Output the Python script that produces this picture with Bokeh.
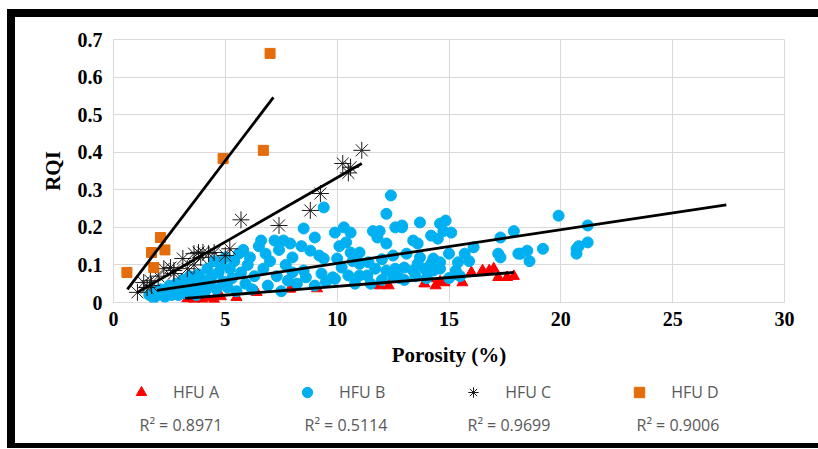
import math
from bokeh.plotting import figure
from bokeh.layouts import column, row
from bokeh.models import (Range1d, FixedTicker, Legend, LegendItem, Label, Div, Spacer)
from bokeh.embed import file_html
from bokeh.resources import INLINE

# ---------------- data ----------------
A_x = [3.3, 3.6, 4.0, 4.2, 4.5, 4.8, 5.5, 6.4, 7.9, 9.1, 11.9, 12.3, 13.9, 14.1, 14.4,
       14.6, 14.8, 15.2, 15.6, 16.0, 16.5, 16.8, 17.0, 17.2, 17.6, 17.9]
A_y = [0.010, 0.008, 0.005, 0.013, 0.008, 0.016, 0.014, 0.027, 0.036, 0.037, 0.045, 0.045, 0.050, 0.064, 0.045,
       0.055, 0.053, 0.070, 0.053, 0.080, 0.085, 0.085, 0.090, 0.067, 0.067, 0.070]

B_x = [1.6, 1.8, 1.9, 2.0, 2.1, 2.3, 2.4, 2.5, 2.6, 2.7, 2.8, 2.9, 3.0,
       3.1, 3.2, 3.3, 3.4, 3.5, 3.6, 3.7, 3.8, 3.9, 4.0,
       4.1, 4.2, 4.3, 4.4, 4.5, 4.6, 4.7, 4.8, 4.9, 5.0,
       5.1, 5.2, 5.3, 5.4, 5.5, 5.6, 5.7, 5.8, 5.9, 6.0,
       6.1, 6.2, 6.3, 6.5, 6.6, 6.7, 6.8, 6.9, 7.0, 7.2, 7.3, 7.4, 7.5, 7.6, 7.7, 7.8, 7.9, 8.0, 8.0, 8.2,
       8.4, 8.5, 8.5, 8.6, 8.8, 9.0, 9.0, 9.2, 9.3, 9.4, 9.4, 9.5, 9.8, 9.9, 9.9, 10.0, 10.1,
       10.2, 10.3, 10.4, 10.5, 10.6, 10.6, 10.7, 10.8, 11.0, 11.0, 11.0, 11.35, 11.4, 11.5, 11.6, 11.7, 11.8, 11.9, 12.0, 12.0,
       12.2, 12.2, 12.2, 12.4, 12.5, 12.5, 12.6, 12.6, 12.9, 12.8,
       12.9, 13.0, 13.0, 13.1, 13.4, 13.4, 13.5, 13.6, 13.6, 13.7, 13.7, 13.9, 14.0, 14.2, 14.2, 14.3, 14.3,
       14.5, 14.6, 14.6, 14.6, 14.75, 14.85, 15.0, 15.0,
       15.1, 15.3, 15.4, 15.5, 15.7, 15.9, 16.1,
       17.2, 17.3, 17.3, 17.9, 18.1, 18.2, 18.5, 18.6, 19.2, 19.9, 20.7, 20.7, 20.8, 21.2, 21.2]
B_y = [0.020, 0.012, 0.030, 0.020, 0.035, 0.015, 0.030, 0.045, 0.020, 0.035, 0.050, 0.020, 0.040,
       0.060, 0.025, 0.045, 0.070, 0.030, 0.055, 0.020, 0.075, 0.040, 0.060,
       0.030, 0.090, 0.050, 0.070, 0.110, 0.035, 0.080, 0.100, 0.055, 0.120,
       0.040, 0.090, 0.065, 0.110, 0.030, 0.130, 0.080, 0.140, 0.050, 0.100,
       0.120, 0.035, 0.070, 0.150, 0.165, 0.090, 0.130, 0.045, 0.110, 0.165, 0.070, 0.140, 0.030, 0.165, 0.100, 0.058, 0.157, 0.120, 0.080, 0.050,
       0.150, 0.197, 0.085, 0.067, 0.138, 0.173, 0.045, 0.125, 0.077, 0.253, 0.117, 0.055, 0.067, 0.186, 0.063, 0.117, 0.150,
       0.093, 0.200, 0.160, 0.072, 0.186, 0.133, 0.110, 0.050, 0.133, 0.072, 0.103, 0.072, 0.107, 0.050, 0.190, 0.090, 0.173, 0.190, 0.060, 0.115,
       0.085, 0.157, 0.236, 0.285, 0.070, 0.125, 0.090, 0.200, 0.200, 0.065,
       0.205, 0.093, 0.060, 0.130, 0.165, 0.085, 0.070, 0.157, 0.103, 0.213, 0.120, 0.090, 0.065, 0.178, 0.103, 0.117, 0.085,
       0.170, 0.210, 0.107, 0.090, 0.190, 0.218, 0.130, 0.065,
       0.186, 0.085, 0.107, 0.070, 0.130, 0.110, 0.147,
       0.130, 0.173, 0.120, 0.190, 0.130, 0.130, 0.138, 0.110, 0.143, 0.231, 0.143, 0.130, 0.150, 0.160, 0.205]

C_x = [1.07, 1.35, 1.5, 1.65, 1.7, 2.0, 2.25, 2.55, 2.7, 2.7, 3.1, 3.3, 3.6, 3.6, 3.8, 3.9,
       4.0, 4.25, 4.5, 5.0, 5.2, 5.7, 7.4, 8.8, 9.25, 10.25, 10.5, 10.6, 11.1]
C_y = [0.027, 0.053, 0.040, 0.058, 0.045, 0.070, 0.090, 0.093, 0.085, 0.077, 0.117, 0.090, 0.130, 0.100, 0.133, 0.120,
       0.133, 0.130, 0.133, 0.125, 0.143, 0.220, 0.205, 0.245, 0.290, 0.370, 0.345, 0.360, 0.405]

D_x = [0.6, 1.7, 1.8, 2.1, 2.3, 4.9, 6.7, 7.0]
D_y = [0.080, 0.133, 0.093, 0.173, 0.140, 0.383, 0.405, 0.663]

# trend lines (endpoints)
trend_A_x = [3.2, 17.9]
trend_A_y = [0.011, 0.080]
trend_B_x = [1.95, 27.4]
trend_B_y = [0.032, 0.260]
trend_C_x = [1.07, 11.1]
trend_C_y = [0.027, 0.370]
trend_D_x = [0.62, 7.15]
trend_D_y = [0.035, 0.546]

series_names = ["HFU A", "HFU B", "HFU C", "HFU D"]
r2_labels = ["R\u00b2 = 0.8971", "R\u00b2 = 0.5114", "R\u00b2 = 0.9699", "R\u00b2 = 0.9006"]

x_ticks = [0, 5, 10, 15, 20, 25, 30]
y_ticks = [0, 0.1, 0.2, 0.3, 0.4, 0.5, 0.6, 0.7]
y_tick_labels = ["0", "0.1", "0.2", "0.3", "0.4", "0.5", "0.6", "0.7"]

styles = {
    "A": dict(marker="triangle", size=11, fill_color="#FF0000", line_color="#FF0000"),
    "B": dict(marker="circle", size=11, fill_color="#00B0F0", line_color="#00B0F0"),
    "C": dict(marker="asterisk", size=17, line_color="#1a1a1a", line_width=1),
    "D": dict(marker="square", size=10, fill_color="#E46C0A", line_color="#E46C0A"),
}
series_xy = {"A": (A_x, A_y), "B": (B_x, B_y), "C": (C_x, C_y), "D": (D_x, D_y)}

# ---------------- main chart ----------------
p = figure(width=803, height=355, output_backend="svg", toolbar_location=None,
           x_range=Range1d(0, 30), y_range=Range1d(0, 0.7),
           min_border_left=98, min_border_right=34, min_border_top=22, min_border_bottom=70)
p.background_fill_color = "white"
p.border_fill_color = "white"
p.outline_line_color = "#d9d9d9"
p.grid.grid_line_color = "#d9d9d9"
p.grid.grid_line_width = 1

serif = "Liberation Serif"
for ax in (p.xaxis[0], p.yaxis[0]):
    ax.axis_line_color = None
    ax.major_tick_line_color = None
    ax.minor_tick_line_color = None
    ax.major_label_text_font = serif
    ax.major_label_text_font_style = "bold"
    ax.major_label_text_font_size = "20px"
    ax.major_label_text_color = "black"
    ax.axis_label_text_font = serif
    ax.axis_label_text_font_style = "bold"
    ax.axis_label_text_font_size = "21px"
    ax.axis_label_text_color = "black"

p.xaxis[0].ticker = FixedTicker(ticks=x_ticks)
p.yaxis[0].ticker = FixedTicker(ticks=y_ticks)
p.yaxis[0].major_label_overrides = {v: s for v, s in zip(y_ticks, y_tick_labels)}
p.xaxis[0].major_label_standoff = 3
p.yaxis[0].major_label_standoff = 5

p.xaxis[0].axis_label = "Porosity (%)"
p.xaxis[0].axis_label_standoff = 14
p.yaxis[0].axis_label = "RQI"
p.yaxis[0].axis_label_standoff = 10

for k in ["A", "B", "C", "D"]:
    p.scatter(series_xy[k][0], series_xy[k][1], **styles[k])

for tx, ty in ((trend_A_x, trend_A_y), (trend_B_x, trend_B_y),
               (trend_C_x, trend_C_y), (trend_D_x, trend_D_y)):
    p.line(tx, ty, line_color="black", line_width=2.8)

# ---------------- legend strip ----------------
# its ranges keep the series out of view, so only the legend keys show
q = figure(width=803, height=71, output_backend="svg", toolbar_location=None,
           x_range=Range1d(-3, -2), y_range=Range1d(-3, -2),
           x_axis_location=None, y_axis_location=None, min_border=0)
q.outline_line_color = None
q.background_fill_color = "white"
q.border_fill_color = "white"
q.grid.visible = False

key_renderers = [q.scatter(series_xy[k][0], series_xy[k][1], **styles[k]) for k in ["A", "B", "C", "D"]]
legend = Legend(items=[LegendItem(label=n, renderers=[r]) for n, r in zip(series_names, key_renderers)],
                location=(15, 38), orientation="horizontal",
                glyph_width=26, glyph_height=26, label_height=26, label_standoff=19, spacing=75,
                padding=0, margin=0, border_line_color=None, background_fill_alpha=0,
                label_text_font="Open Sans", label_text_font_size="16px", label_text_color="#595959")
q.add_layout(legend)

r2_x = [26, 191, 354, 523]
for xx, t in zip(r2_x, r2_labels):
    q.add_layout(Label(x=xx, y=19, x_units="screen", y_units="screen", text=t,
                       text_align="left", text_baseline="middle",
                       text_font="Open Sans", text_font_size="16px", text_color="#595959"))

# thick black frame round the chart
bar = {"background-color": "black"}
left_bar = Div(text="", width=8, height=439, margin=0, styles=bar)
top_bar = Div(text="", width=803, height=8, margin=0, styles=bar)
bottom_bar = Div(text="", width=803, height=5, margin=0, styles=bar)

inner = row(left_bar, column(top_bar, p, q, bottom_bar, spacing=0), spacing=0)
layout = row(Spacer(width=7, height=448, margin=0),
             column(Spacer(width=811, height=9, margin=0), inner, spacing=0),
             spacing=0)
open("out.html", "w").write(file_html(layout, INLINE))
